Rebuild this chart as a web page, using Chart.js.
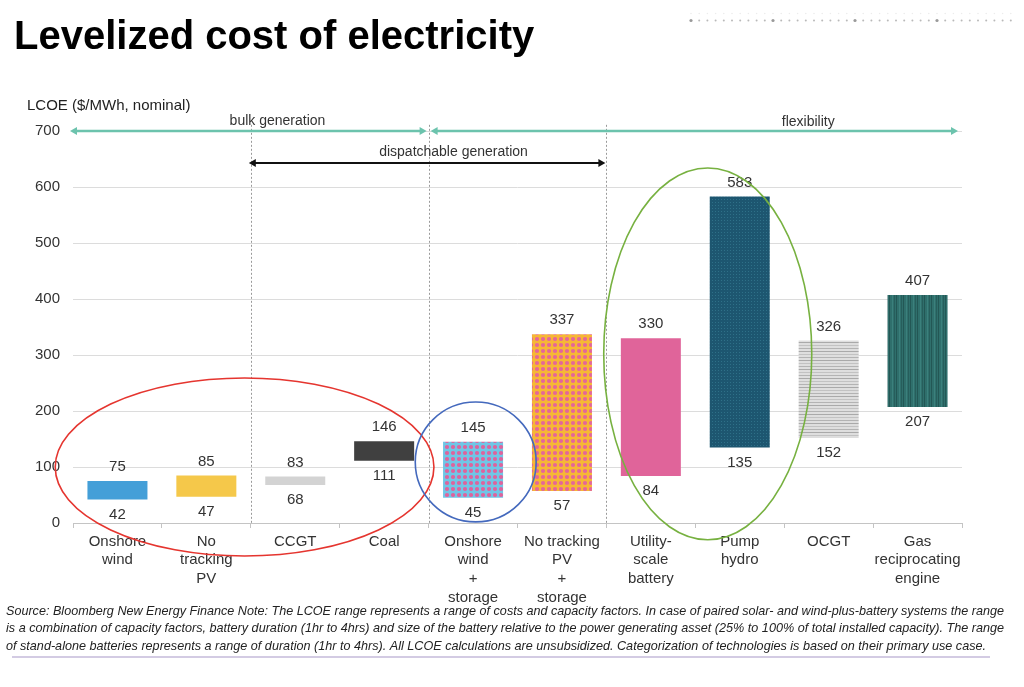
<!DOCTYPE html>
<html>
<head>
<meta charset="utf-8">
<script src="https://cdn.jsdelivr.net/npm/chart.js@4/dist/chart.umd.min.js"></script>
<style>
html,body{margin:0;padding:0;background:#fff;}
#wrap{position:relative;width:1024px;height:687px;}
canvas{display:block;}
</style>
</head>
<body>
<div id="wrap"><canvas id="c" width="1024" height="687"></canvas></div>
<script>
// ---- data ----
const categories = [["Onshore","wind"],["No","tracking","PV"],["CCGT"],["Coal"],["Onshore","wind","+","storage"],["No tracking","PV","+","storage"],["Utility-","scale","battery"],["Pump","hydro"],["OCGT"],["Gas","reciprocating","engine"]];
const lowValues  = [42, 47, 68, 111, 45, 57, 84, 135, 152, 207];
const highValues = [75, 85, 83, 146, 145, 337, 330, 583, 326, 407];
const yTickValues = [0, 100, 200, 300, 400, 500, 600, 700];
const groupLabels = ["bulk generation", "dispatchable generation", "flexibility"];
const titleText = "Levelized cost of electricity";
const yAxisTitle = "LCOE ($/MWh, nominal)";
const footnotes = [
  "Source: Bloomberg New Energy Finance Note: The LCOE range represents a range of costs and capacity factors. In case of paired solar- and wind-plus-battery systems the range",
  "is a combination of capacity factors, battery duration (1hr to 4hrs) and size of the battery relative to the power generating asset (25% to 100% of total installed capacity). The range",
  "of stand-alone batteries represents a range of duration (1hr to 4hrs). All LCOE calculations are unsubsidized. Categorization of technologies is based on their primary use case."
];

const FONT = "'Liberation Sans', Arial, Helvetica, sans-serif";

// ---- patterns ----
function makePattern(w, h, draw) {
  const c = document.createElement('canvas');
  c.width = w; c.height = h;
  const g = c.getContext('2d');
  draw(g, w, h);
  return document.getElementById('c').getContext('2d').createPattern(c, 'repeat');
}
function dots(bg, fg) {
  return makePattern(6, 6, (g) => {
    g.fillStyle = bg; g.fillRect(0, 0, 6, 6);
    g.fillStyle = fg;
    g.beginPath(); g.arc(3, 3, 2.1, 0, Math.PI * 2); g.fill();
  });
}
const patWindStorage = dots('#70c6e6', '#e0629c');
const patPVStorage = dots('#f6b736', '#e4669a');
const patHydro = makePattern(3, 3, (g) => {
  g.fillStyle = '#1d5670'; g.fillRect(0, 0, 3, 3);
  g.fillStyle = '#2e7088'; g.fillRect(1, 1, 1, 1);
});
const patOCGT = makePattern(4, 9, (g) => {
  g.fillStyle = '#dedede'; g.fillRect(0, 0, 4, 9);
  g.fillStyle = '#a9a9a9'; g.fillRect(0, 0, 4, 1);
  g.fillStyle = '#c2c2c2'; g.fillRect(0, 3, 4, 1);
  g.fillStyle = '#b3b3b3'; g.fillRect(0, 6, 4, 1);
});
const patGas = makePattern(7, 4, (g) => {
  g.fillStyle = '#2f6f6c'; g.fillRect(0, 0, 7, 4);
  g.fillStyle = '#235755'; g.fillRect(0, 0, 1, 4);
  g.fillStyle = '#3b807c'; g.fillRect(3, 0, 1, 4);
  g.fillStyle = '#275e5c'; g.fillRect(5, 0, 1, 4);
});
const barFills = ['#449fd8', '#f5c84a', '#d3d3d3', '#404040', patWindStorage, patPVStorage, '#e0649a', patHydro, patOCGT, patGas];

// ---- plugin for annotations ----
function arrowHead(ctx, x, y, dir, len, half) {
  ctx.beginPath();
  ctx.moveTo(x, y);
  ctx.lineTo(x - dir * len, y - half);
  ctx.lineTo(x - dir * len, y + half);
  ctx.closePath();
  ctx.fill();
}
function dblArrow(ctx, x1, x2, y, color, lw) {
  ctx.save();
  ctx.strokeStyle = color; ctx.fillStyle = color; ctx.lineWidth = lw;
  ctx.beginPath(); ctx.moveTo(x1 + 4, y); ctx.lineTo(x2 - 4, y); ctx.stroke();
  arrowHead(ctx, x1, y, -1, 7, 4);
  arrowHead(ctx, x2, y, 1, 7, 4);
  ctx.restore();
}

const annot = {
  id: 'annot',
  beforeDraw(chart) {
    const ctx = chart.ctx;
    ctx.save();
    ctx.fillStyle = '#fff';
    ctx.fillRect(0, 0, chart.width, chart.height);
    ctx.restore();
  },
  afterDatasetsDraw(chart) {
    const ctx = chart.ctx;
    const xs = chart.scales.x, ys = chart.scales.y;
    const cw = xs.getPixelForValue(1) - xs.getPixelForValue(0);
    const bnd = (i) => xs.getPixelForValue(i) - cw / 2; // left boundary of category i
    ctx.save();
    // dotted separators
    ctx.strokeStyle = '#9a9a9a'; ctx.lineWidth = 1; ctx.setLineDash([2, 2]);
    [2, 4, 6].forEach(i => {
      const x = Math.round(bnd(i)) + 0.5;
      ctx.beginPath(); ctx.moveTo(x, ys.getPixelForValue(711)); ctx.lineTo(x, ys.getPixelForValue(0)); ctx.stroke();
    });
    ctx.setLineDash([]);
    // data labels
    ctx.font = '15px ' + FONT; ctx.fillStyle = '#333'; ctx.textAlign = 'center'; ctx.textBaseline = 'middle';
    const meta = chart.getDatasetMeta(0);
    meta.data.forEach((bar, i) => {
      const yTop = ys.getPixelForValue(highValues[i]);
      const yBot = ys.getPixelForValue(lowValues[i]);
      ctx.fillText(String(highValues[i]), bar.x, yTop - 14);
      ctx.fillText(String(lowValues[i]), bar.x, yBot + 15);
    });
    // group arrows
    const y700 = ys.getPixelForValue(700);
    const yDisp = ys.getPixelForValue(643);
    dblArrow(ctx, xs.left - 3, bnd(4) - 2, y700, '#6cc3ad', 2.5);
    dblArrow(ctx, bnd(4) + 2, xs.right - 4, y700, '#6cc3ad', 2.5);
    dblArrow(ctx, bnd(2) - 2, bnd(6) - 1, yDisp, '#111', 2);
    ctx.font = '14px ' + FONT; ctx.fillStyle = '#333'; ctx.textBaseline = 'middle';
    ctx.fillText(groupLabels[0], xs.getPixelForValue(1.8), y700 - 10);
    ctx.fillText(groupLabels[1], xs.getPixelForValue(3.78), yDisp - 11);
    ctx.fillText(groupLabels[2], xs.getPixelForValue(7.77), y700 - 9);
    ctx.restore();
  },
  afterDraw(chart) {
    const ctx = chart.ctx;
    const xs = chart.scales.x, ys = chart.scales.y;
    const cw = xs.getPixelForValue(1) - xs.getPixelForValue(0);
    const uy = ys.getPixelForValue(0) - ys.getPixelForValue(1);
    ctx.save();
    // highlight ellipses (data coordinates)
    const ell = (cx, cy, rxCat, ryVal, color) => {
      ctx.strokeStyle = color; ctx.lineWidth = 1.6;
      ctx.beginPath();
      ctx.ellipse(xs.getPixelForValue(cx), ys.getPixelForValue(cy), rxCat * cw, ryVal * uy, 0, 0, Math.PI * 2);
      ctx.stroke();
    };
    ell(1.43, 100, 2.13, 159, '#e5352f');
    ell(4.03, 109, 0.68, 107, '#4469bd');
    ell(6.64, 302, 1.17, 332, '#77b140');

    // title
    ctx.fillStyle = '#000'; ctx.textAlign = 'left'; ctx.textBaseline = 'alphabetic';
    ctx.font = 'bold 40px ' + FONT;
    ctx.fillText(titleText, 14, 49);
    // y axis title
    ctx.font = '15px ' + FONT; ctx.fillStyle = '#222';
    ctx.fillText(yAxisTitle, 27, 110);
    // top-right dotted decoration
    for (let i = 0; i <= 39; i++) {
      const x = 691 + i * 8.2;
      ctx.fillStyle = (i % 10 === 0) ? '#9a9a9a' : '#b9b9b9';
      ctx.beginPath(); ctx.arc(x, 20.5, (i % 10 === 0) ? 1.6 : 1.0, 0, Math.PI * 2); ctx.fill();
      ctx.fillStyle = '#ececec';
      ctx.beginPath(); ctx.arc(x, 13.5, 0.8, 0, Math.PI * 2); ctx.fill();
    }
    // footnotes (condensed italic)
    ctx.fillStyle = '#222'; ctx.font = 'italic 13px ' + FONT; ctx.textBaseline = 'middle';
    const targets = [1004, 1004, 986];
    footnotes.forEach((t, i) => {
      const w = ctx.measureText(t).width;
      const s = (targets[i] - 6) / w;
      ctx.save();
      ctx.translate(6, 611 + i * 17.8);
      ctx.scale(s, 1);
      ctx.fillText(t, 0, 0);
      ctx.restore();
    });
    // lavender rule
    ctx.fillStyle = '#d3cbe3';
    ctx.fillRect(12, 656, 978, 2);
    ctx.restore();
  }
};

new Chart(document.getElementById('c'), {
  type: 'bar',
  data: {
    labels: categories,
    datasets: [{
      data: lowValues.map((lo, i) => [lo, highValues[i]]),
      backgroundColor: barFills,
      borderWidth: 0,
      barPercentage: 0.675,
      categoryPercentage: 1.0
    }]
  },
  options: {
    responsive: false,
    animation: false,
    devicePixelRatio: 1,
    layout: { padding: { left: 0, right: 62, top: 131, bottom: 74 } },
    plugins: { legend: { display: false }, tooltip: { enabled: false }, title: { display: false } },
    scales: {
      x: {
        afterFit(s) { s.height = 90; },
        grid: { offset: true, drawOnChartArea: false, drawTicks: true, tickLength: 5, color: '#c4c4c4' },
        border: { display: true, color: '#c4c4c4', width: 1 },
        ticks: { color: '#333', font: { family: FONT, size: 15, lineHeight: 1.25 }, padding: 4, maxRotation: 0, autoSkip: false }
      },
      y: {
        min: 0, max: 700,
        afterFit(s) { s.width = 73; },
        afterBuildTicks(s) { s.ticks = yTickValues.map(v => ({ value: v })); },
        grid: { color: '#dcdcdc', drawTicks: false, lineWidth: 1 },
        border: { display: false },
        ticks: { color: '#333', font: { family: FONT, size: 15 }, padding: 13 }
      }
    }
  },
  plugins: [annot]
});
</script>
</body>
</html>
